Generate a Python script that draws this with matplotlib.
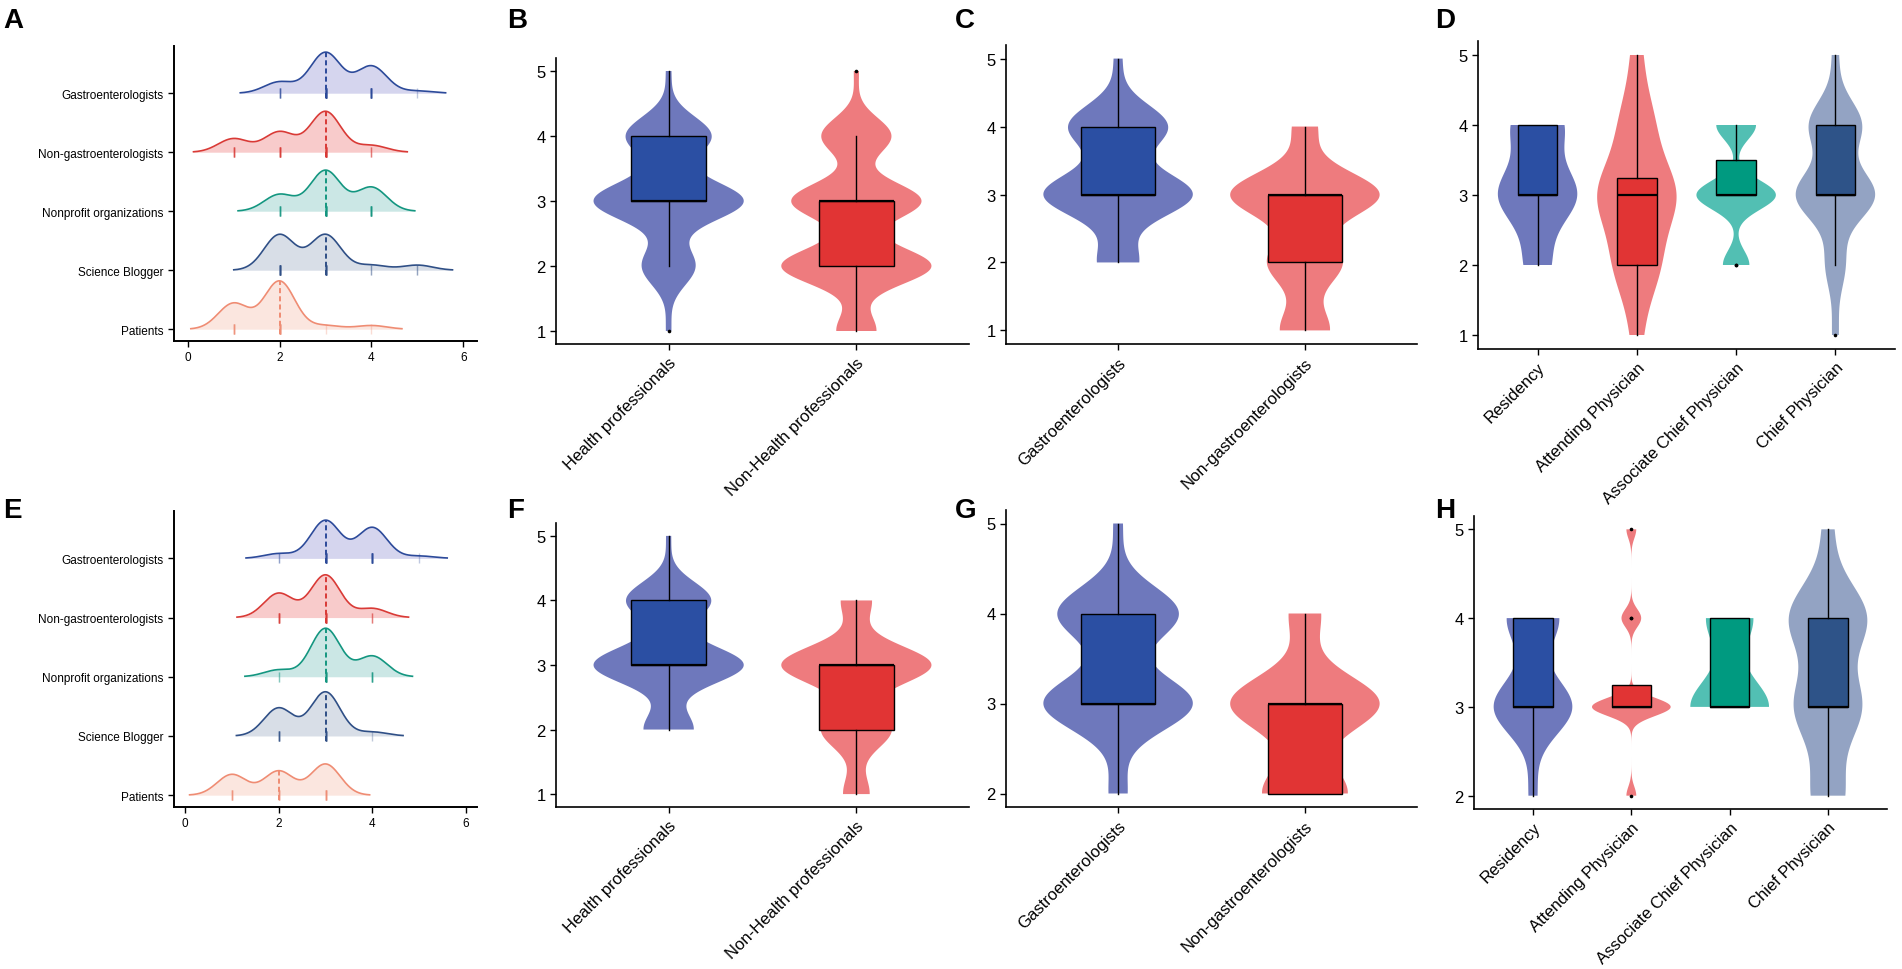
import numpy as np
import matplotlib.pyplot as plt
from matplotlib.transforms import ScaledTranslation

plt.rcParams['font.family'] = ['Liberation Sans', 'DejaVu Sans']

W, H = 1902, 970

scores = np.array([1, 2, 3, 4, 5])

# ridgeline groups (counts of score 1..5)
ridge_groups = ["Gastroenterologists", "Non-gastroenterologists",
                "Nonprofit organizations", "Science Blogger", "Patients"]

a_gastro = [0, 5, 18, 12, 1]
a_nongastro = [6, 9, 18, 3, 0]
a_nonprofit = [0, 7, 17, 10, 0]
a_blogger = [0, 14, 14, 2, 2]
a_patients = [7, 13, 1, 1, 0]

e_gastro = [0, 2, 16, 13, 1]
e_nongastro = [0, 8, 14, 3, 0]
e_nonprofit = [0, 2, 14, 6, 0]
e_blogger = [0, 7, 11, 1, 0]
e_patients = [6, 7, 9, 0, 0]

# violin panels
prof_labels = ["Health professionals", "Non-Health professionals"]
spec_labels = ["Gastroenterologists", "Non-gastroenterologists"]
title_labels = ["Residency", "Attending Physician",
                "Associate Chief Physician", "Chief Physician"]

b_health = [1, 10, 28, 16, 1]
b_nonhealth = [8, 30, 26, 14, 1]

d_residency = [0, 2, 6, 4, 0]
d_attending = [1, 4, 7, 3, 1]
d_associate = [0, 2, 6, 3, 0]
d_chief = [1, 3, 12, 8, 1]

f_health = [0, 10, 30, 17, 1]
f_nonhealth = [6, 16, 34, 7, 0]

h_residency = [0, 1, 9, 6, 0]
h_attending = [0, 1, 8, 2, 1]
h_associate = [0, 0, 5, 3, 0]
h_chief = [0, 3, 6, 7, 1]

ridge_line = ["#2C4A9A", "#D93A36", "#139680", "#2F4F86", "#EF8C73"]
ridge_fill = ["#D5D5EE", "#F8CBCB", "#CBE7E5", "#D8DEE7", "#FBE6DF"]
violin_col = ["#6E78BC", "#EE7B7E", "#52BFB3", "#93A3C3"]
box_col = ["#2B4FA3", "#E13434", "#009A80", "#2E5388"]


def nrd0(x):
    sd = np.std(x, ddof=1)
    q75, q25 = np.percentile(x, [75, 25])
    lo = min(sd, (q75 - q25) / 1.34)
    if lo <= 0:
        lo = sd
    return 0.9 * lo * len(x) ** -0.2


def kde(x, grid, bw):
    z = (grid[:, None] - x[None, :]) / bw
    return np.exp(-0.5 * z ** 2).sum(axis=1) / (len(x) * bw * np.sqrt(2 * np.pi))


def px_axes(fig, x0, x1, y0, y1):
    return fig.add_axes([x0 / W, 1 - y1 / H, (x1 - x0) / W, (y1 - y0) / H])


def style(ax, lw=1.2):
    for s in ['top', 'right']:
        ax.spines[s].set_visible(False)
    for s in ['left', 'bottom']:
        ax.spines[s].set_linewidth(lw)
        ax.spines[s].set_color('black')
    ax.tick_params(direction='out', length=4, width=1, colors='black')


def ridges(ax, counts_list, rel_min=0.01):
    samples = [np.repeat(scores, c) for c in counts_list]
    bw = np.mean([nrd0(s) for s in samples])
    curves = []
    for s in samples:
        xs = np.linspace(s.min() - 3 * bw, s.max() + 3 * bw, 600)
        curves.append((xs, kde(s, xs, bw)))
    k = 0.82 / max(c[1].max() for c in curves)
    n = len(samples)
    for i, (s, (xs, ys)) in enumerate(zip(samples, curves)):
        base = n - i
        keep = np.where(ys >= rel_min * ys.max())[0]
        xt, yt = xs[keep[0]:keep[-1] + 1], ys[keep[0]:keep[-1] + 1]
        ax.fill_between(xt, base, base + yt * k, color=ridge_fill[i], lw=0, zorder=2 + i)
        ax.plot(xt, base + yt * k, color=ridge_line[i], lw=1.2, zorder=2 + i)
        ax.vlines(s, base - 0.085, base + 0.085, color=ridge_line[i], lw=1.0,
                  alpha=0.3, zorder=2 + i)
        med = np.median(s)
        hm = np.interp(med, xs, ys) * k
        ax.vlines(med, base - 0.085, base + hm, color=ridge_line[i], lw=1.4,
                  linestyles=(0, (2.6, 1.6)), zorder=2 + i)
    lo = min(c[0][0] for c in curves)
    hi = max(c[0][-1] for c in curves)
    pad = 0.05 * (hi - lo)
    ax.set_xlim(lo - pad, hi + pad)
    ax.set_ylim(0.8, 5.8)
    ax.set_yticks(np.arange(n, 0, -1), ridge_groups)
    ax.set_xticks([0, 2, 4, 6])
    style(ax, 1.4)
    ax.tick_params(labelsize=8.5)


def violins(ax, labels, counts_list):
    data = [np.repeat(scores, c) for c in counts_list]
    pos = np.arange(1, len(data) + 1)
    parts = ax.violinplot(data, positions=pos, widths=0.8, showextrema=False,
                          points=300,
                          bw_method=lambda kd: nrd0(kd.dataset[0]) / np.std(kd.dataset[0], ddof=1))
    for body, c in zip(parts['bodies'], violin_col):
        body.set_facecolor(c)
        body.set_edgecolor('none')
        body.set_alpha(1)
    bp = ax.boxplot(data, positions=pos, widths=0.4, patch_artist=True,
                    showcaps=False, whis=1.5,
                    medianprops=dict(color='black', lw=1.6),
                    boxprops=dict(edgecolor='black', lw=1.0),
                    whiskerprops=dict(color='black', lw=1.0),
                    flierprops=dict(marker='o', markersize=2.6,
                                    markerfacecolor='black', markeredgecolor='none'))
    for patch, c in zip(bp['boxes'], box_col):
        patch.set_facecolor(c)
    lo = min(d.min() for d in data)
    hi = max(d.max() for d in data)
    pad = 0.05 * (hi - lo)
    ax.set_ylim(lo - pad, hi + pad)
    ax.set_xlim(0.4, len(data) + 0.6)
    ax.set_yticks(np.arange(lo, hi + 1))
    ax.set_xticks(pos, labels, rotation=45, ha='right', rotation_mode='anchor')
    shift = ScaledTranslation(5 / 100, 0, fig.dpi_scale_trans)
    for lab in ax.get_xticklabels():
        lab.set_transform(lab.get_transform() + shift)
    style(ax)
    ax.tick_params(labelsize=12)


fig = plt.figure(figsize=(W / 100, H / 100), dpi=100)

axA = px_axes(fig, 174, 477, 47, 342)
ridges(axA, [a_gastro, a_nongastro, a_nonprofit, a_blogger, a_patients])
axB = px_axes(fig, 556, 969, 59, 345)
violins(axB, prof_labels, [b_health, b_nonhealth])
axC = px_axes(fig, 1006, 1417, 46, 345)
violins(axC, spec_labels, [a_gastro, a_nongastro])
axD = px_axes(fig, 1478, 1895, 42, 350)
violins(axD, title_labels, [d_residency, d_attending, d_associate, d_chief])

axE = px_axes(fig, 174, 477, 512, 808)
ridges(axE, [e_gastro, e_nongastro, e_nonprofit, e_blogger, e_patients])
axF = px_axes(fig, 556, 969, 524, 808)
violins(axF, prof_labels, [f_health, f_nonhealth])
axG = px_axes(fig, 1006, 1417, 511, 808)
violins(axG, spec_labels, [e_gastro, e_nongastro])
axH = px_axes(fig, 1474, 1887, 517, 810)
violins(axH, title_labels, [h_residency, h_attending, h_associate, h_chief])

for letter, x, y in [("A", 3, 8), ("B", 507, 8), ("C", 955, 8), ("D", 1435, 8),
                     ("E", 3, 498), ("F", 507, 498), ("G", 955, 498), ("H", 1435, 498)]:
    fig.text(x / W, 1 - y / H, letter, fontsize=20, fontweight='bold',
             ha='left', va='top')

fig.savefig("out.png", dpi=100)
